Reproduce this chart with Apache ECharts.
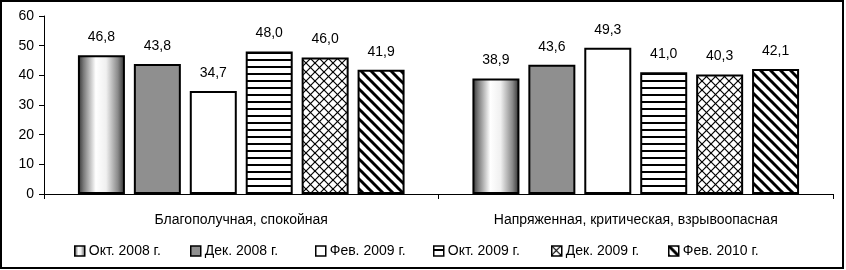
<!DOCTYPE html>
<html>
<head>
<meta charset="utf-8">
<script src="https://cdn.jsdelivr.net/npm/echarts@6/dist/echarts.min.js"></script>
<style>
  html, body { margin: 0; padding: 0; background: #fff; }
  #main { width: 846px; height: 270px; }
</style>
</head>
<body>
<div id="main"></div>
<script>
const categories = ['Благополучная, спокойная', 'Напряженная, критическая, взрывоопасная'];
const seriesNames = ['Окт. 2008 г.', 'Дек. 2008 г.', 'Фев. 2009 г.', 'Окт. 2009 г.', 'Дек. 2009 г.', 'Фев. 2010 г.'];
const okt2008 = [46.8, 38.9];
const dek2008 = [43.8, 43.6];
const fev2009 = [34.7, 49.3];
const okt2009 = [48.0, 41.0];
const dek2009 = [46.0, 40.3];
const fev2010 = [41.9, 42.1];
const yTicks = [0, 10, 20, 30, 40, 50, 60];

const font = '"Liberation Sans", Arial, sans-serif';

// hatch tiles drawn on small canvases
function tile(w, h, draw) {
  const c = document.createElement('canvas');
  c.width = w; c.height = h;
  const ctx = c.getContext('2d');
  ctx.fillStyle = '#fff';
  ctx.fillRect(0, 0, w, h);
  ctx.strokeStyle = '#000';
  draw(ctx);
  return { image: c, repeat: 'repeat' };
}

const horizLines = tile(8, 7, ctx => {
  ctx.fillStyle = '#000';
  ctx.fillRect(0, 3, 8, 2);
});

const crossHatch = tile(9, 9, ctx => {
  ctx.lineWidth = 1.2;
  for (let o = -9; o <= 9; o += 9) {
    ctx.beginPath(); ctx.moveTo(o, 0); ctx.lineTo(o + 9, 9); ctx.stroke();
    ctx.beginPath(); ctx.moveTo(o + 9, 0); ctx.lineTo(o, 9); ctx.stroke();
  }
});

const diagStripes = tile(10, 10, ctx => {
  ctx.lineWidth = 3;
  for (let o = -10; o <= 10; o += 10) {
    ctx.beginPath(); ctx.moveTo(o - 1, -1); ctx.lineTo(o + 11, 11); ctx.stroke();
  }
});

const cylinder = {
  type: 'linear', x: 0, y: 0, x2: 1, y2: 0,
  colorStops: [
    { offset: 0, color: '#2e2e2e' },
    { offset: 0.12, color: '#7a7a7a' },
    { offset: 0.38, color: '#ffffff' },
    { offset: 0.6, color: '#f0f0f0' },
    { offset: 0.85, color: '#8a8a8a' },
    { offset: 1, color: '#2a2a2a' }
  ]
};

const fills = [cylinder, '#8f8f8f', '#ffffff', horizLines, crossHatch, diagStripes];
const values = [okt2008, dek2008, fev2009, okt2009, dek2009, fev2010];
const legendLeft = [69, 185, 310, 428, 546, 663];

var myChart = echarts.init(document.getElementById('main'));

var option = {
  backgroundColor: '#fff',
  animation: false,
  grid: { left: 44, right: 13, top: 16, bottom: 76 },
  graphic: [{
    type: 'rect',
    shape: { x: 1, y: 1, width: 842, height: 267 },
    style: { fill: 'none', stroke: '#000', lineWidth: 2 },
    silent: true
  }],
  legend: seriesNames.map((name, i) => ({
    left: legendLeft[i],
    top: 239,
    itemWidth: 10,
    itemHeight: 10,
    icon: 'rect',
    itemStyle: { borderColor: '#000', borderWidth: 1.5 },
    textStyle: { fontFamily: font, fontSize: 14, color: '#000', padding: [0, 0, 0, -1] },
    data: [name]
  })),
  xAxis: {
    type: 'category',
    data: categories,
    axisLine: { lineStyle: { color: '#000', width: 1 } },
    axisTick: { show: true, length: 5, lineStyle: { color: '#000' } },
    axisLabel: { interval: 0, margin: 19, fontFamily: font, fontSize: 14, color: '#000' }
  },
  yAxis: {
    type: 'value',
    min: yTicks[0],
    max: yTicks[yTicks.length - 1],
    interval: 10,
    splitLine: { show: false },
    axisLine: { show: true, lineStyle: { color: '#000', width: 1 } },
    axisTick: { show: true, length: 5, lineStyle: { color: '#000' } },
    axisLabel: { margin: 10, fontFamily: font, fontSize: 14, color: '#000' }
  },
  series: seriesNames.map((name, i) => ({
    name: name,
    type: 'bar',
    data: values[i],
    barWidth: 47,
    barGap: '19%',
    itemStyle: { color: fills[i], borderColor: '#000', borderWidth: 2 },
    label: {
      show: true,
      position: 'top',
      distance: 11,
      fontFamily: font,
      fontSize: 14,
      color: '#000',
      formatter: p => p.value.toFixed(1).replace('.', ',')
    }
  }))
};

option && myChart.setOption(option);
</script>
</body>
</html>
